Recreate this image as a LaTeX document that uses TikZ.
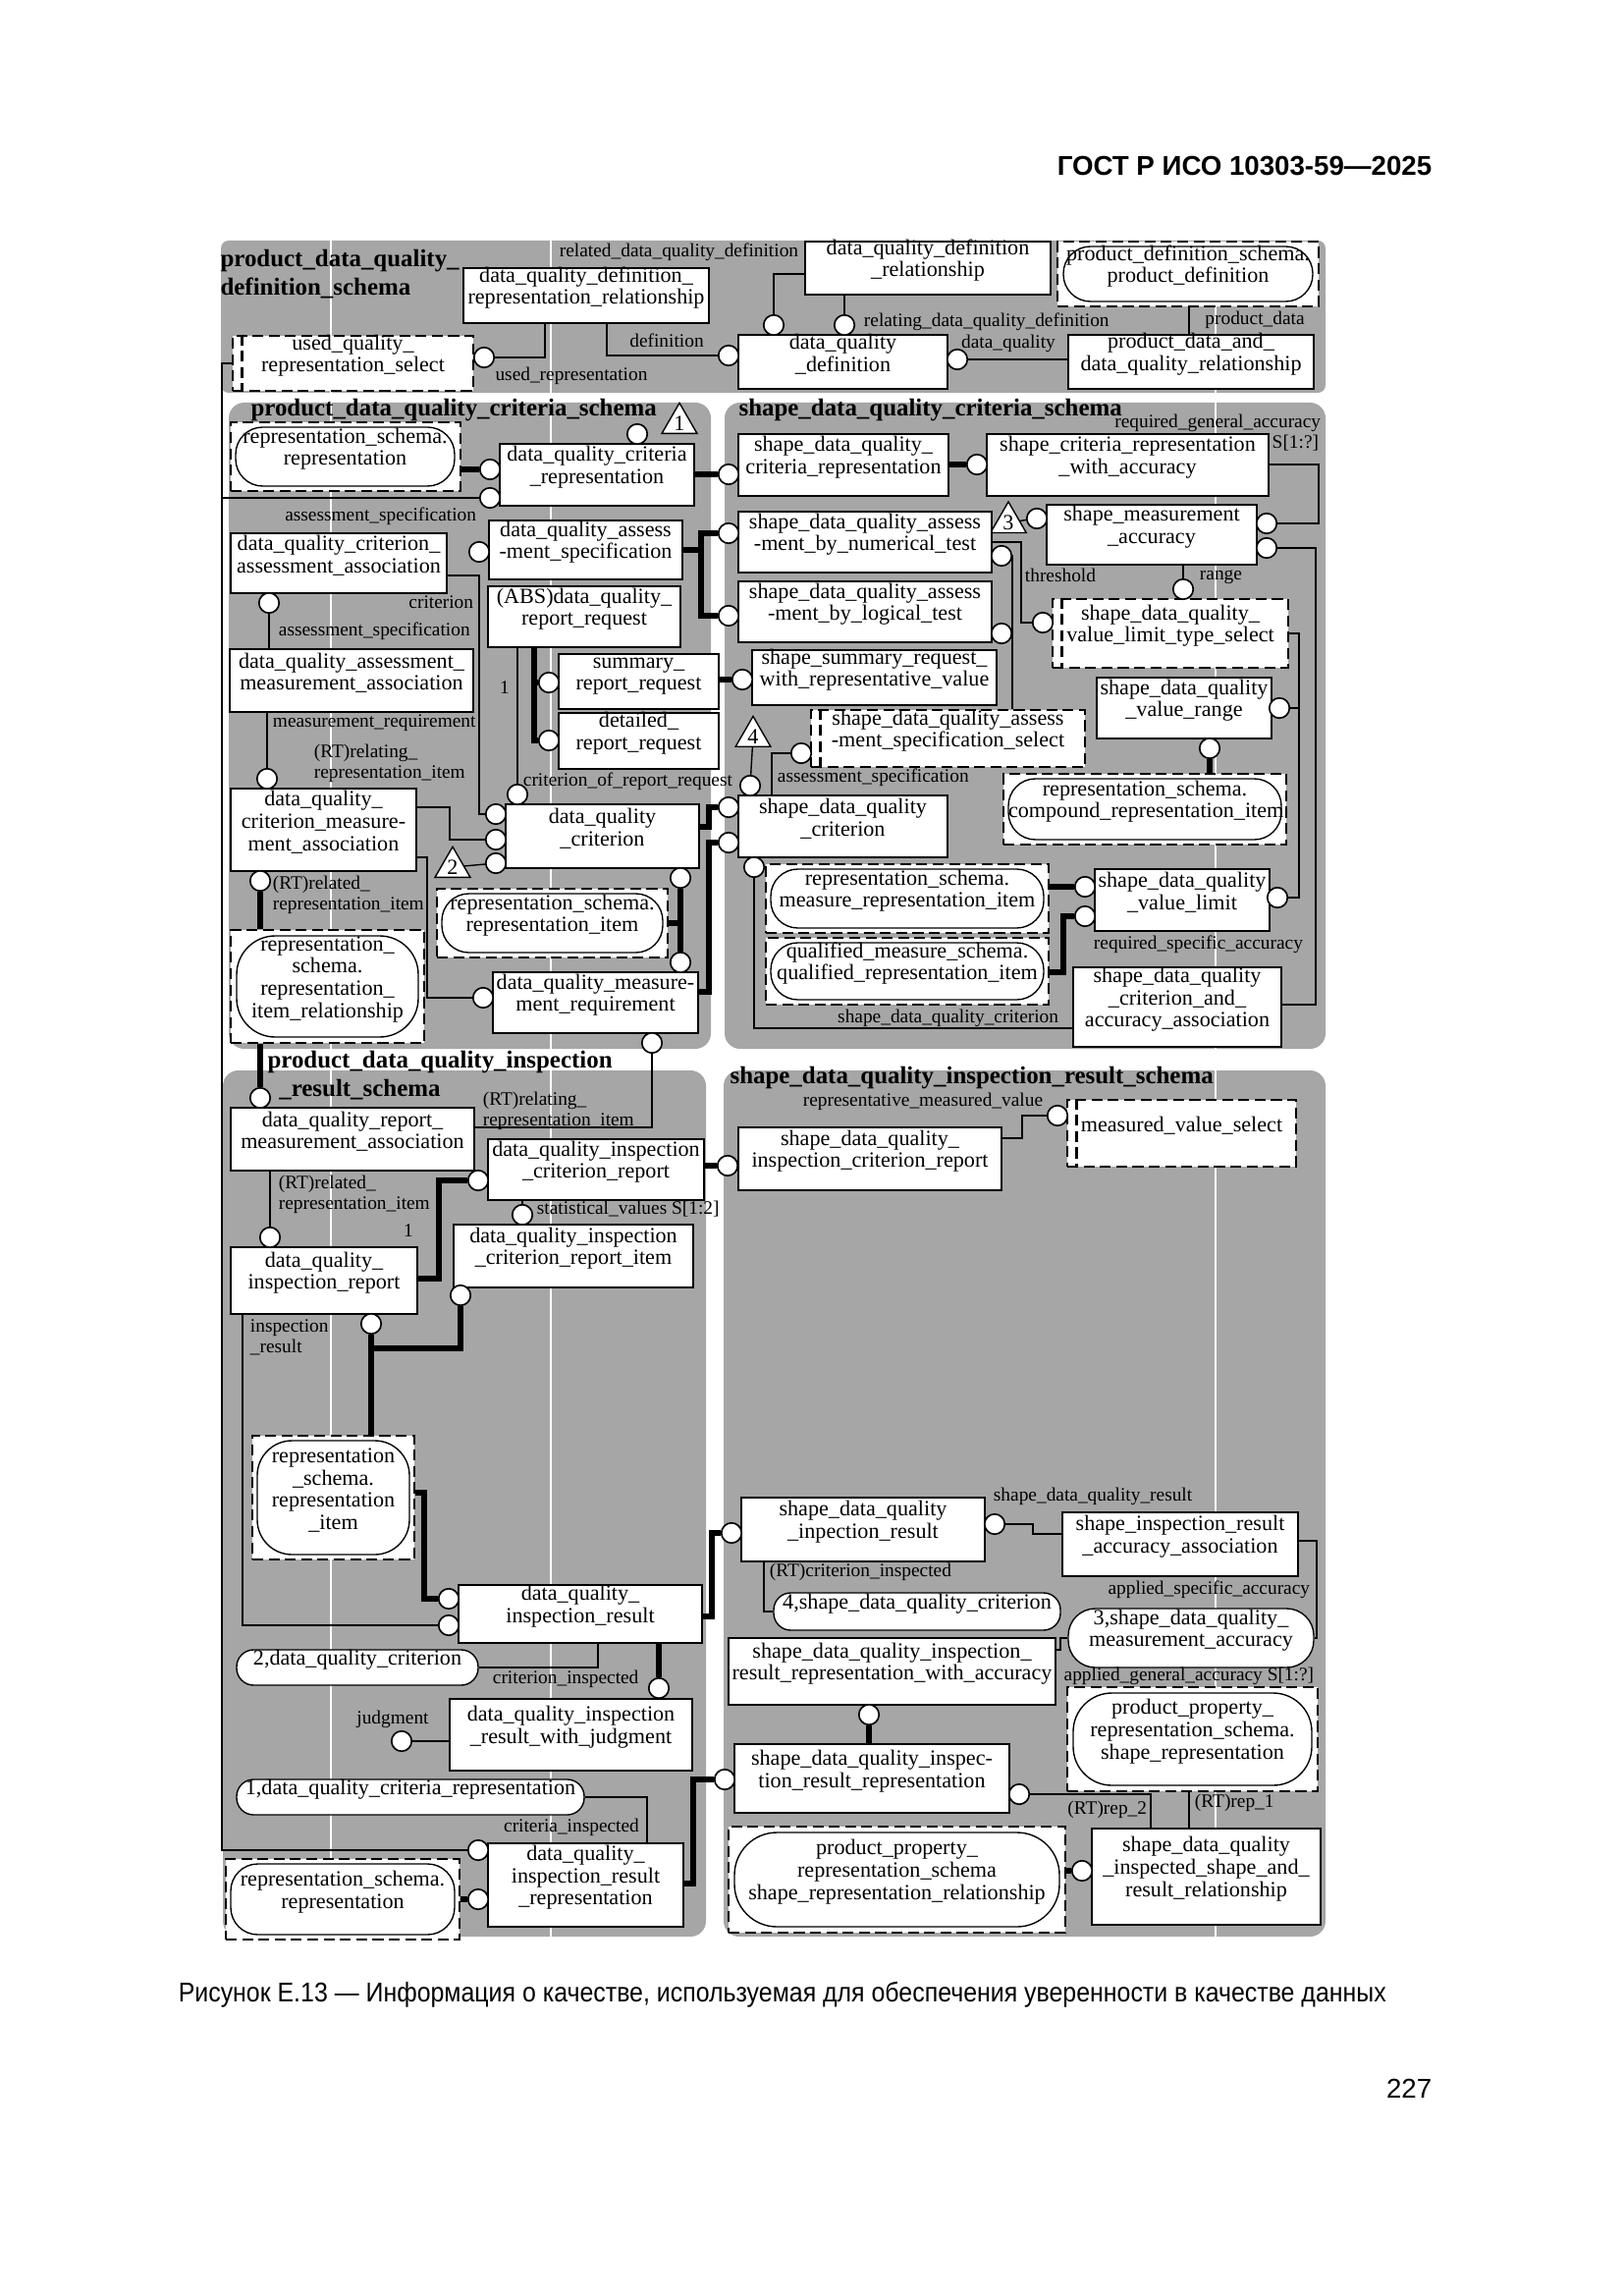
\documentclass[tikz,border=0pt]{standalone}
\usepackage{fontspec}
\setmainfont{Liberation Serif}
\newfontfamily\hdrfont{Liberation Sans}
\usetikzlibrary{fit,shapes.geometric}
\newcommand{\entfont}{\fontsize{8}{8.2}\selectfont}
\newcommand{\lblfont}{\fontsize{7}{7.6}\selectfont}
\newcommand{\ttlfont}{\fontsize{9}{10.2}\selectfont\bfseries}
\pgfdeclarelayer{back}
\pgfdeclarelayer{wires}
\pgfsetlayers{back,wires,main}

\begin{document}
\catcode`\_=12
\begin{tikzpicture}[x=0.127mm, y=-0.127mm,
    ent/.style={draw, fill=white, line width=0.8pt, inner sep=0pt, align=center, font=\entfont},
    sel/.style={draw, fill=white, dash pattern=on 4pt off 2pt, line width=1pt, inner sep=0pt, align=center, font=\entfont},
    schref/.style={draw, fill=white, dash pattern=on 4pt off 2pt, line width=1pt, inner sep=0pt},
    seldash/.style={dash pattern=on 4pt off 2pt, line width=0.9pt},
    stad/.style={draw, fill=white, line width=0.5pt, rounded corners=3.5mm, inner sep=0pt, align=center, font=\entfont},
    att/.style={circle, draw, fill=white, line width=0.6pt, minimum size=2.6mm, inner sep=0pt},
    pageref/.style={regular polygon, regular polygon sides=3, draw, fill=white, line width=0.5pt, minimum size=5.2mm, inner sep=0pt, font=\entfont},
    lbl/.style={font=\lblfont, inner sep=0.5pt},
    ttl/.style={font=\ttlfont, inner sep=0pt},
    sub/.style={line width=2.2pt},
    rel/.style={line width=0.5pt},
    schema/.style={fill=black!35, rounded corners=2mm}]

    \useasboundingbox (0,0) rectangle (1653,2338);

    \begin{pgfonlayer}{back}
        \fill[schema, rounded corners=1mm] (225,245) rectangle (1350,400);
        \fill[schema] (233,410) rectangle (724,1068);
        \fill[schema] (738,410) rectangle (1350,1068);
        \fill[schema] (227,1090) rectangle (719,1972);
        \fill[schema] (737,1090) rectangle (1350,1972);
        \foreach \gx in {337,561,1238}
            \draw[white, line width=0.5pt] (\gx,245) -- (\gx,1972);
    \end{pgfonlayer}

    % page header and caption
    \node[anchor=east, font=\hdrfont\bfseries\fontsize{10}{12}\selectfont] at (1468,169) {ГОСТ Р ИСО 10303-59—2025};
    \node[anchor=base west, font=\hdrfont\fontsize{10}{12}\selectfont] at (172,2038) {\scalebox{0.9}[1]{Рисунок Е.13 — Информация о качестве, используемая для обеспечения уверенности в качестве данных}};
    \node[anchor=east, font=\hdrfont\fontsize{10}{12}\selectfont] at (1468,2127) {227};

    % product_data_quality_definition_schema
    \node[ttl, anchor=north west, align=left] at (224,254) {product_data_quality_\\definition_schema};
    \node[ent, fit={(472,273) (722,329)}] (dqdrr) {data_quality_definition_\\representation_relationship};
    \node[ent, fit={(820,246) (1070,300)}] (dqdr) {data_quality_definition\\_relationship};
    \node[ent, fit={(752,341) (965,396)}] (dqd) {data_quality\\_definition};
    \node[ent, fit={(1088,341) (1338,396)}] (pddqr) {product_data_and_\\data_quality_relationship};
    \node[schref, fit={(1077,246) (1343,312)}] (pd) {};
    \node[stad, fit={(1083,251) (1337,307)}] {product_definition_schema.\\product_definition};
    \node[sel, fit={(237,342) (482,398)}] (uqrs) {used_quality_\\representation_select};
    \draw[seldash] ([xshift=1.4mm]uqrs.north west) -- ([xshift=1.4mm]uqrs.south west);
    \node[att] (ouqrs) at (493,364) {};
    \node[att] (odqdL) at (742,362) {};
    \node[att] (odqdT1) at (788,331) {};
    \node[att] (odqdT2) at (860,331) {};
    \node[att] (odqdR) at (975,366) {};
    \node[lbl] at (582,383) {used_representation};
    \node[lbl] at (679,347) {definition};
    \node[lbl, anchor=east] at (815,257) {related_data_quality_definition};
    \node[lbl, anchor=west] at (878,328) {relating_data_quality_definition};
    \node[lbl] at (1027,350) {data_quality};
    \node[lbl] at (1278,326) {product_data};

    % product_data_quality_criteria_schema
    \node[ttl, anchor=west] at (255,418) {product_data_quality_criteria_schema};
    \node[pageref] (t1) at (692,431) {1};
    \node[schref, fit={(235,430) (469,500)}] (rep1) {};
    \node[stad, fit={(240,435) (463,495)}] {representation_schema.\\representation};
    \node[ent, fit={(509,452) (707,515)}] (dqcr) {data_quality_criteria\\_representation};
    \node[att] (odqcrT) at (649,442) {};
    \node[att] (odqcrL1) at (499,478) {};
    \node[att] (odqcrL2) at (499,507) {};
    \node[ent, fit={(498,530) (695,590)}] (dqas) {data_quality_assess\\-ment_specification};
    \node[att] (odqasL) at (488,562) {};
    \node[ent, fit={(235,543) (455,604)}] (dqcaa) {data_quality_criterion_\\assessment_association};
    \node[att] (odqcaaB) at (274,614) {};
    \node[ent, fit={(497,597) (693,659)}] (rr) {(ABS)data_quality_\\report_request};
    \node[ent, fit={(234,661) (482,725)}] (dqama) {data_quality_assessment_\\measurement_association};
    \node[ent, fit={(569,666) (732,722)}] (srr) {summary_\\report_request};
    \node[ent, fit={(569,726) (732,783)}] (drr) {detailed_\\report_request};
    \node[att] (osrr) at (559,695) {};
    \node[att] (odrr) at (559,754) {};
    \node[lbl] at (514,700) {1};
    \node[ent, fit={(515,819) (712,884)}] (dqc) {data_quality\\_criterion};
    \node[att] (odqcT) at (527,809) {};
    \node[att] (odqcL1) at (505,829) {};
    \node[att] (odqcL2) at (505,855) {};
    \node[att] (odqcL3) at (505,879) {};
    \node[att] (odqcB) at (693,894) {};
    \node[ent, fit={(235,803) (424,887)}] (dqcma) {data_quality_\\criterion_measure-\\ment_association};
    \node[att] (odqcmaT) at (272,793) {};
    \node[att] (odqcmaB) at (265,897) {};
    \node[pageref] (t2) at (461,883) {2};
    \node[schref, fit={(235,947) (432,1062)}] (rir) {};
    \node[stad, rounded corners=5mm, fit={(241,953) (426,1056)}] {representation_\\schema.\\representation_\\item_relationship};
    \node[schref, fit={(445,905) (680,975)}] (ri1) {};
    \node[stad, fit={(450,910) (675,970)}] {representation_schema.\\representation_item};
    \node[ent, fit={(502,990) (711,1052)}] (dqmr) {data_quality_measure-\\ment_requirement};
    \node[att] (odqmrT) at (693,980) {};
    \node[att] (odqmrL) at (492,1016) {};
    \node[att] (odqmrB) at (664,1062) {};
    \node[lbl, anchor=east] at (487,526) {assessment_specification};
    \node[lbl, anchor=east] at (484,613) {criterion};
    \node[lbl, anchor=west] at (282,643) {assessment_specification};
    \node[lbl, anchor=west] at (276,736) {measurement_requirement};
    \node[lbl, anchor=west, align=left] at (318,777) {(RT)relating_\\representation_item};
    \node[lbl, anchor=west] at (531,796) {criterion_of_report_request};
    \node[lbl, anchor=west, align=left] at (276,911) {(RT)related_\\representation_item};

    % shape_data_quality_criteria_schema
    \node[ttl, anchor=west] at (752,418) {shape_data_quality_criteria_schema};
    \node[lbl, anchor=east] at (1347,431) {required_general_accuracy};
    \node[lbl, anchor=east] at (1345,451) {S[1:?]};
    \node[ent, fit={(752,442) (966,505)}] (sdqcr) {shape_data_quality_\\criteria_representation};
    \node[att] (osdqcrL) at (742,483) {};
    \node[ent, fit={(1005,442) (1292,505)}] (scrwa) {shape_criteria_representation\\_with_accuracy};
    \node[att] (oscrwaL) at (995,473) {};
    \node[ent, fit={(1066,514) (1280,575)}] (sma) {shape_measurement\\_accuracy};
    \node[att] (osmaR1) at (1290,533) {};
    \node[att] (osmaR2) at (1290,558) {};
    \node[att] (osmaL) at (1056,528) {};
    \node[pageref] (t3) at (1027,532) {3};
    \node[ent, fit={(752,521) (1010,583)}] (sdqnt) {shape_data_quality_assess\\-ment_by_numerical_test};
    \node[att] (osdqntL) at (742,543) {};
    \node[att] (osdqntR) at (1020,566) {};
    \node[ent, fit={(752,592) (1010,654)}] (sdqlt) {shape_data_quality_assess\\-ment_by_logical_test};
    \node[att] (osdqltL) at (742,627) {};
    \node[att] (osdqltR) at (1020,645) {};
    \node[lbl, anchor=west] at (1042,586) {threshold};
    \node[lbl, anchor=west] at (1220,588) {range};
    \node[sel, fit={(1072,610) (1312,680)}] (vlts) {shape_data_quality_\\value_limit_type_select};
    \draw[seldash] ([xshift=1.4mm]vlts.north west) -- ([xshift=1.4mm]vlts.south west);
    \node[att] (ovltsT) at (1205,600) {};
    \node[att] (ovltsL) at (1062,634) {};
    \node[ent, fit={(1117,690) (1295,752)}] (sdqvr) {shape_data_quality\\_value_range};
    \node[att] (osdqvrR) at (1303,721) {};
    \node[att] (osdqvrB) at (1232,762) {};
    \node[schref, fit={(1022,788) (1310,860)}] (cri) {};
    \node[stad, fit={(1027,793) (1305,855)}] {representation_schema.\\compound_representation_item};
    \node[ent, fit={(1115,885) (1293,948)}] (sdqvl) {shape_data_quality\\_value_limit};
    \node[att] (osdqvlL1) at (1105,903) {};
    \node[att] (osdqvlL2) at (1105,933) {};
    \node[att] (osdqvlR) at (1301,914) {};
    \node[schref, fit={(780,880) (1068,950)}] (mri) {};
    \node[stad, fit={(785,885) (1063,945)}] {representation_schema.\\measure_representation_item};
    \node[schref, fit={(780,955) (1068,1023)}] (qri) {};
    \node[stad, fit={(785,960) (1063,1018)}] {qualified_measure_schema.\\qualified_representation_item};
    \node[ent, fit={(1093,985) (1305,1066)}] (sdqcaaa) {shape_data_quality\\_criterion_and_\\accuracy_association};
    \node[lbl, anchor=west] at (1112,962) {required_specific_accuracy};
    \node[ent, fit={(752,810) (965,873)}] (sdqc) {shape_data_quality\\_criterion};
    \node[att] (osdqcL1) at (742,822) {};
    \node[att] (osdqcL2) at (742,858) {};
    \node[att] (osdqcT) at (764,800) {};
    \node[att] (osdqcB) at (768,883) {};
    \node[pageref] (t4) at (767,750) {4};
    \node[sel, fit={(826,723) (1105,781)}] (sdqass) {shape_data_quality_assess\\-ment_specification_select};
    \draw[seldash] ([xshift=1.4mm]sdqass.north west) -- ([xshift=1.4mm]sdqass.south west);
    \node[att] (osdqassL) at (816,767) {};
    \node[lbl, anchor=west] at (790,792) {assessment_specification};
    \node[lbl, anchor=east] at (1080,1037) {shape_data_quality_criterion};
    \node[ent, fit={(766,662) (1015,718)}] (sswrv) {shape_summary_request_\\with_representative_value};
    \node[att] (osswrvL) at (756,692) {};

    % product_data_quality_inspection_result_schema
    \node[ttl, anchor=north west, align=left] at (272,1070) {product_data_quality_inspection\\ \hspace*{1.5mm}_result_schema};
    \node[ent, fit={(235,1128) (483,1192)}] (dqrma) {data_quality_report_\\measurement_association};
    \node[att] (odqrmaT) at (265,1118) {};
    \node[lbl, anchor=north west, align=left] at (490,1110) {(RT)relating_\\representation_item};
    \node[ent, fit={(497,1160) (717,1222)}] (dqicr) {data_quality_inspection\\_criterion_report};
    \node[att] (odqicrL) at (487,1202) {};
    \node[att] (odqicriT) at (532,1237) {};
    \node[lbl, anchor=west] at (545,1231) {statistical_values S[1:2]};
    \node[ent, fit={(462,1247) (706,1311)}] (dqicri) {data_quality_inspection\\_criterion_report_item};
    \node[att] (odqicriB) at (469,1319) {};
    \node[ent, fit={(235,1270) (425,1338)}] (dqir) {data_quality_\\inspection_report};
    \node[att] (odqirT) at (275,1260) {};
    \node[att] (odqirB) at (378,1348) {};
    \node[lbl, anchor=north west, align=left] at (282,1195) {(RT)related_\\representation_item};
    \node[lbl] at (416,1253) {1};
    \node[lbl, anchor=north west, align=left] at (253,1342) {inspection\\_result};
    \node[schref, fit={(257,1462) (422,1588)}] (ri2) {};
    \node[stad, rounded corners=4.5mm, fit={(262,1467) (417,1583)}] {representation\\_schema.\\representation\\_item};
    \node[ent, fit={(467,1614) (715,1673)}] (dqires) {data_quality_\\inspection_result};
    \node[att] (odqiresL1) at (457,1628) {};
    \node[att] (odqiresL2) at (457,1655) {};
    \node[stad, rounded corners=2.2mm, fit={(241,1680) (487,1716)}] (ref2) {2,data_quality_criterion};
    \node[lbl, anchor=west] at (500,1710) {criterion_inspected};
    \node[att] (odqirwjT) at (671,1719) {};
    \node[ent, fit={(458,1730) (705,1803)}] (dqirwj) {data_quality_inspection\\_result_with_judgment};
    \node[att] (ojudg) at (409,1773) {};
    \node[lbl] at (400,1751) {judgment};
    \node[stad, rounded corners=2.2mm, fit={(241,1812) (595,1848)}] (ref1) {1,data_quality_criteria_representation};
    \node[lbl] at (582,1861) {criteria_inspected};
    \node[ent, fit={(497,1877) (696,1962)}] (dqirr) {data_quality_\\inspection_result\\_representation};
    \node[att] (odqirrL1) at (487,1884) {};
    \node[att] (odqirrL2) at (487,1934) {};
    \node[schref, fit={(230,1893) (468,1975)}] (rep2) {};
    \node[stad, fit={(235,1898) (463,1970)}] {representation_schema.\\representation};

    % shape_data_quality_inspection_result_schema
    \node[ttl, anchor=west] at (743,1098) {shape_data_quality_inspection_result_schema};
    \node[ent, fit={(752,1148) (1020,1212)}] (sdqicr) {shape_data_quality_\\inspection_criterion_report};
    \node[att] (osdqicrL) at (741,1187) {};
    \node[sel, fit={(1087,1120) (1320,1188)}] (mvs) {measured_value_select};
    \draw[seldash] ([xshift=1.4mm]mvs.north west) -- ([xshift=1.4mm]mvs.south west);
    \node[att] (omvsL) at (1077,1136) {};
    \node[lbl, anchor=east] at (1064,1122) {representative_measured_value};
    \node[ent, fit={(755,1525) (1003,1590)}] (sdqires) {shape_data_quality\\_inpection_result};
    \node[att] (osdqiresL) at (745,1561) {};
    \node[att] (osdqiresR) at (1013,1552) {};
    \node[lbl, anchor=west] at (1010,1524) {shape_data_quality_result};
    \node[ent, fit={(1082,1540) (1322,1605)}] (siraa) {shape_inspection_result\\_accuracy_association};
    \node[lbl, anchor=east] at (1336,1619) {applied_specific_accuracy};
    \node[lbl, anchor=west] at (782,1601) {(RT)criterion_inspected};
    \node[stad, rounded corners=2.2mm, fit={(788,1622) (1080,1660)}] (ref4) {4,shape_data_quality_criterion};
    \node[stad, fit={(1088,1638) (1338,1698)}] (ref3) {3,shape_data_quality_\\measurement_accuracy};
    \node[ent, fit={(742,1668) (1075,1736)}] (sdqirrwa) {shape_data_quality_inspection_\\result_representation_with_accuracy};
    \node[lbl, anchor=east] at (1340,1707) {applied_general_accuracy S[1:?]};
    \node[att] (osdqirrwaB) at (885,1746) {};
    \node[ent, fit={(748,1776) (1028,1846)}] (sdqirr) {shape_data_quality_inspec-\\tion_result_representation};
    \node[att] (osdqirrL) at (738,1812) {};
    \node[att] (osdqirrR) at (1038,1827) {};
    \node[lbl, anchor=east] at (1170,1843) {(RT)rep_2};
    \node[schref, fit={(1087,1718) (1342,1824)}] (psr) {};
    \node[stad, rounded corners=5mm, fit={(1093,1724) (1336,1818)}] {product_property_\\representation_schema.\\shape_representation};
    \node[lbl, anchor=west] at (1215,1836) {(RT)rep_1};
    \node[ent, fit={(1112,1862) (1345,1960)}] (sdqisarr) {shape_data_quality\\_inspected_shape_and_\\result_relationship};
    \node[att] (osdqisarrL) at (1102,1905) {};
    \node[schref, fit={(742,1860) (1085,1968)}] (psrr) {};
    \node[stad, rounded corners=5.5mm, fit={(748,1866) (1079,1962)}] {product_property_\\representation_schema\\shape_representation_relationship};

    \begin{pgfonlayer}{wires}
        % definition schema
        \draw[rel] (ouqrs) -| (555,0 |- dqdrr.south);
        \draw[rel] (618,0 |- dqdrr.south) |- (odqdL);
        \draw[rel] (dqdr.west |- 0,279) -| (odqdT1);
        \draw[rel] (odqdT2 |- dqdr.south) -- (odqdT2);
        \draw[rel] (odqdR) -- (odqdR -| pddqr.west);
        \draw[rel] (1211,0 |- pd.south) -- (1211,0 |- pddqr.north);
        \draw[rel] (uqrs.west) -| (226,0 |- odqirrL1) -- (odqirrL1);
        \draw[rel] (226,0 |- odqcrL2) -- (odqcrL2);
        % criteria schema
        \draw[sub] (rep1.east |- odqcrL1) -- (odqcrL1);
        \draw[rel] (dqcaa.east |- 0,586) -| (488,0 |- odqcL1) -- (odqcL1);
        \draw[rel] (odqcaaB) -- (odqcaaB |- dqama.north);
        \draw[sub] (dqas.east) -| (714,0 |- osdqntL) -- (osdqntL);
        \draw[sub] (714,0 |- dqas.east) |- (osdqltL);
        \draw[sub] (544,0 |- rr.south) |- (odrr);
        \draw[sub] (544,0 |- osrr) -- (osrr);
        \draw[rel] (odqcT |- rr.south) -- (odqcT);
        \draw[sub] (srr.east |- osswrvL) -- (osswrvL);
        \draw[rel] (272,0 |- dqama.south) -- (odqcmaT);
        \draw[rel] (dqcma.east |- 0,822) -| (458,0 |- odqcL2) -- (odqcL2);
        \draw[rel] (t2) -- (odqcL3);
        \draw[rel] (dqcma.east |- 0,873) -| (435,0 |- odqmrL) -- (odqmrL);
        \draw[sub] (odqcmaB) -- (odqcmaB |- rir.north);
        \draw[sub] (265,0 |- rir.south) -- (odqrmaT);
        \draw[sub] (ri1.east) -- (693,0 |- ri1.east);
        \draw[sub] (odqcB) -- (odqmrT);
        \draw[sub] (dqc.east |- 0,842) -| (722,0 |- osdqcL1) -- (osdqcL1);
        \draw[sub] (dqmr.east |- 0,1010) -| (722,0 |- osdqcL2) -- (osdqcL2);
        \draw[sub] (dqcr.east |- osdqcrL) -- (osdqcrL);
        % shape criteria schema
        \draw[sub] (sdqcr.east |- oscrwaL) -- (oscrwaL);
        \draw[rel] (scrwa.east |- 0,473) -| (1343,0 |- osmaR1) -- (osmaR1);
        \draw[rel] (t3) -- (osmaL);
        \draw[rel] (sdqnt.east |- 0,552) -| (1040,0 |- ovltsL) -- (ovltsL);
        \draw[rel] (osdqntR) -| (1031,0 |- sdqass.north);
        \draw[rel] (osdqltR) -- (1031,0 |- osdqltR);
        \draw[rel] (1205,0 |- sma.south) -- (ovltsT);
        \draw[rel] (vlts.east |- 0,645) -| (1323,0 |- osdqvlR) -- (osdqvlR);
        \draw[rel] (1323,0 |- osdqvrR) -- (osdqvrR);
        \draw[sub] (osdqvrB) -- (osdqvrB |- cri.north);
        \draw[sub] (mri.east |- osdqvlL1) -- (osdqvlL1);
        \draw[sub] (qri.east |- 0,990) -| (1083,0 |- osdqvlL2) -- (osdqvlL2);
        \draw[rel] (sdqcaaa.east |- 0,1023) -| (1340,0 |- osmaR2) -- (osmaR2);
        \draw[rel] (t4) -- (osdqcT);
        \draw[rel] (786,0 |- sdqc.north) |- (osdqassL);
        \draw[rel] (osdqcB) |- (sdqcaaa.west |- 0,1047);
        % inspection result schema
        \draw[rel] (dqrma.east |- 0,1148) -| (odqmrB);
        \draw[rel] (532,0 |- dqicr.south) -- (odqicriT);
        \draw[rel] (275,0 |- dqrma.south) -- (odqirT);
        \draw[sub] (dqir.east |- 0,1302) -| (447,0 |- odqicrL) -- (odqicrL);
        \draw[sub] (odqirB) -- (378,0 |- ri2.north);
        \draw[sub] (odqicriB) |- (378,1373);
        \draw[sub] (ri2.east |- 0,1520) -| (432,0 |- odqiresL1) -- (odqiresL1);
        \draw[rel] (247,0 |- dqir.south) |- (odqiresL2);
        \draw[rel] (ref2.east) -| (609,0 |- dqires.south);
        \draw[sub] (671,0 |- dqires.south) -- (odqirwjT);
        \draw[rel] (ojudg) -- (dqirwj.west |- ojudg);
        \draw[rel] (ref1.east) -| (659,0 |- dqirr.north);
        \draw[sub] (rep2.east |- odqirrL2) -- (odqirrL2);
        \draw[sub] (dqirr.east |- 0,1918) -| (706,0 |- osdqirrL) -- (osdqirrL);
        \draw[sub] (dqires.east |- 0,1646) -| (725,0 |- osdqiresL) -- (osdqiresL);
        \draw[sub] (dqicr.east |- osdqicrL) -- (osdqicrL);
        % shape inspection result schema
        \draw[rel] (sdqicr.east |- 0,1159) -| (1041,0 |- omvsL) -- (omvsL);
        \draw[rel] (osdqiresR) -| (1052,1562) -- (siraa.west |- 0,1562);
        \draw[rel] (siraa.east |- 0,1569) -| (1341,0 |- ref3.east) -- (ref3.east);
        \draw[rel] (778,0 |- sdqires.south) |- (ref4.west);
        \draw[rel] (sdqirrwa.east |- 0,1680) -| (1080,0 |- ref3.west) -- (ref3.west);
        \draw[sub] (osdqirrwaB) -- (osdqirrwaB |- sdqirr.north);
        \draw[rel] (osdqirrR) -| (1172,0 |- sdqisarr.north);
        \draw[rel] (1211,0 |- psr.south) -- (1211,0 |- sdqisarr.north);
        \draw[sub] (psrr.east |- osdqisarrL) -- (osdqisarrL);
    \end{pgfonlayer}
\end{tikzpicture}
\end{document}
